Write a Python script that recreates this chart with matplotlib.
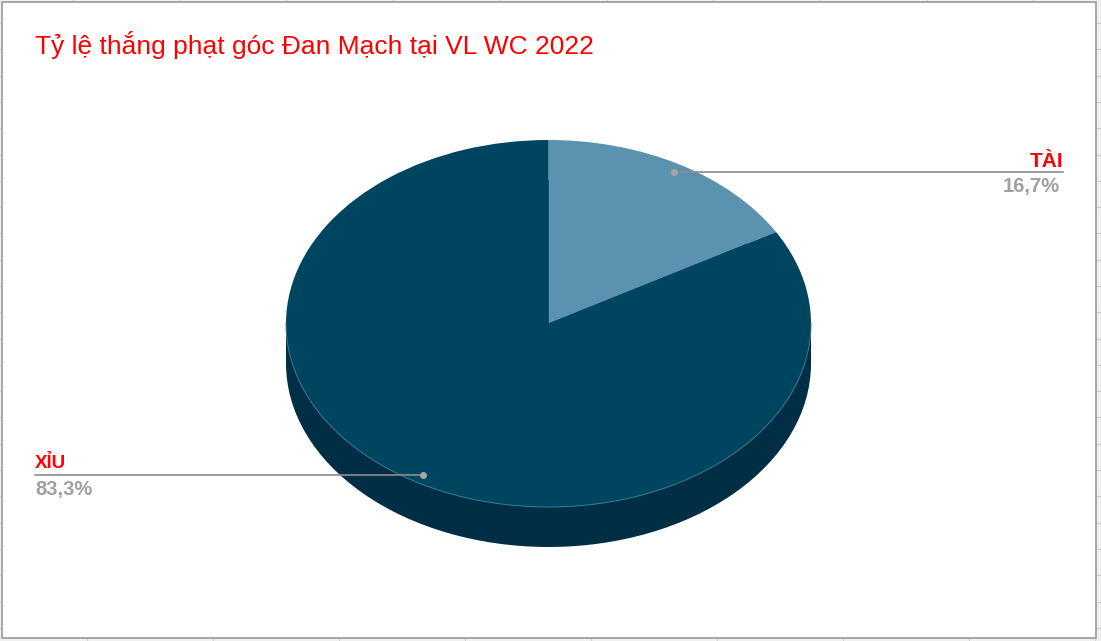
import numpy as np
import matplotlib.pyplot as plt
import matplotlib.patches as mpatches
from matplotlib.transforms import Affine2D

plt.rcParams['font.family'] = ['Liberation Sans', 'DejaVu Sans']

# Dữ liệu
labels = ['TÀI', 'XỈU']
values = [16.7, 83.3]
pct_labels = ['16,7%', '83,3%']
colors = ['#5a92b0', '#004560']
side_color = '#002f45'
title = 'Tỷ lệ thắng phạt góc Đan Mạch tại VL WC 2022'

W, H = 1101, 641
fig = plt.figure(figsize=(W / 100, H / 100), dpi=100, facecolor='#f0f0f0')
ax = fig.add_axes([0, 0, 1, 1])

# Hình elip của mặt bánh (pixel)
cx, cy = 548.5, 323.5
rx, ry = 262.5, 183.5
depth = 40

wedges, _ = ax.pie(values, colors=colors, startangle=90, counterclock=False,
                   wedgeprops=dict(linewidth=0))
pie_tf = Affine2D().scale(rx, -ry).translate(cx, cy) + ax.transData
for w in wedges:
    w.set_transform(pie_tf)
    w.set_zorder(3)

ax.set_xlim(0, W)
ax.set_ylim(H, 0)
ax.set_aspect('auto')
ax.axis('off')

# Nền bảng tính + khung biểu đồ
for y in np.arange(23, H, 26.3):
    ax.plot([1097, W], [y, y], color='#d0d0d0', lw=0.8, zorder=0)
    ax.plot([0, 2], [y, y], color='#d0d0d0', lw=0.8, zorder=0)
for x in np.arange(87, W, 126):
    ax.plot([x, x], [638, H], color='#d0d0d0', lw=0.8, zorder=0)
for x in np.arange(73, W, 106.7):
    ax.plot([x, x], [0, 2], color='#d0d0d0', lw=0.8, zorder=0)
ax.add_patch(mpatches.Rectangle((2, 2), 1094, 636, facecolor='white',
                                edgecolor='#9a9a9a', lw=1.2, zorder=0.5))

# Thành bên 3D
ax.add_patch(mpatches.Ellipse((cx, cy + depth), 2 * rx, 2 * ry,
                              color=side_color, lw=0, zorder=2))
ax.add_patch(mpatches.Rectangle((cx - rx, cy), 2 * rx, depth,
                                color=side_color, lw=0, zorder=2))
t = np.linspace(np.pi, 2 * np.pi, 300)
ax.plot(cx + rx * np.cos(t), cy - ry * np.sin(t), color='#3f7a96', lw=0.7, zorder=4)

# Tiêu đề
ax.text(35, 54, title, color='#ff0000', fontsize=19, ha='left', va='baseline')

# Nhãn dữ liệu
label_x = [1063, 35]
for w, lab, pct, lx in zip(wedges, labels, pct_labels, label_x):
    mid = np.deg2rad((w.theta1 + w.theta2) / 2)
    dx = cx + rx * 0.955 * np.cos(mid)
    dy = cy - ry * 0.955 * np.sin(mid)
    ax.plot([dx, lx], [dy, dy], color='#8c8c8c', lw=1.2, zorder=5)
    ax.plot(dx, dy, 'o', color='#a6a6a6', ms=4, zorder=6)
    right = lx > cx
    ha = 'right' if right else 'left'
    if right:
        ax.text(lx, dy - 5, lab, color='#ff0000', fontsize=15, fontweight='bold',
                ha=ha, va='baseline')
    else:
        ax.text(lx, dy - 7, lab, color='#ff0000', fontsize=13.5, fontweight='bold',
                ha=ha, va='baseline')
    ax.text(lx - (3 if right else 0), dy + 20, pct, color='#a0a0a0', fontsize=14.5,
            fontweight='bold', ha=ha, va='baseline')

fig.savefig('out.png', dpi=100, facecolor=fig.get_facecolor())
